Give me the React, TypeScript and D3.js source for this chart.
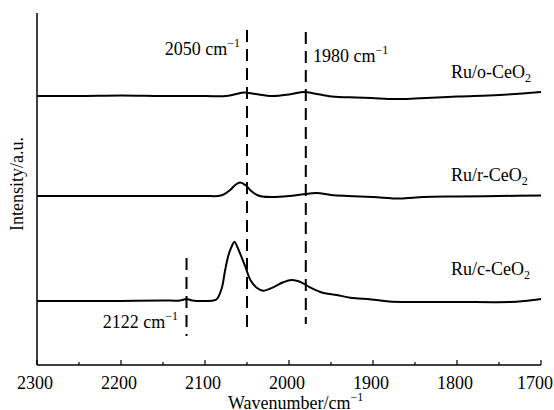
import React from "react";
import * as d3 from "d3";

// Wavenumber axis (cm^-1) and tick settings
const xDomain: [number, number] = [2300, 1700];
const majorTicks = [2300, 2200, 2100, 2000, 1900, 1800, 1700];
const minorTicks = [2250, 2150, 2050, 1950, 1850, 1750];

// Series labels and vertical offsets (a.u.)
const seriesNames = ["o", "r", "c"];
const seriesOffsets = [2.69, 1.69, 0.64];

// Ru/o-CeO2 spectrum
const oWave = [2300, 2250, 2200, 2150, 2100, 2075, 2060, 2054, 2040, 2020, 2000, 1982, 1970, 1949, 1920, 1902, 1874, 1850, 1800, 1750, 1700];
const oInt = [0, 0, 0.005, 0, 0, 0, 0.025, 0.035, 0.02, 0, 0.015, 0.04, 0.025, -0.005, -0.015, -0.02, -0.03, -0.025, -0.005, 0.01, 0.04];

// Ru/r-CeO2 spectrum
const rWave = [2300, 2200, 2100, 2085, 2079, 2070, 2064, 2058, 2052, 2045, 2038, 2032, 2020, 2000, 1985, 1967, 1950, 1930, 1900, 1868, 1840, 1800, 1750, 1700];
const rInt = [0, 0, 0, 0, 0.01, 0.06, 0.11, 0.135, 0.11, 0.05, 0.01, -0.005, -0.01, 0, 0.015, 0.03, 0.01, 0, -0.01, -0.025, -0.01, -0.005, 0, 0.005];

// Ru/c-CeO2 spectrum
const cWave = [2300, 2250, 2200, 2150, 2130, 2122, 2115, 2100, 2090, 2086, 2080, 2076, 2072, 2068, 2065, 2060, 2052, 2046, 2038, 2031, 2019, 2007, 1997, 1987, 1975, 1960, 1943, 1927, 1902, 1881, 1850, 1800, 1738, 1720, 1700];
const cInt = [0, 0, 0, 0.005, 0.005, 0.02, 0.005, 0, 0.005, 0.017, 0.13, 0.31, 0.46, 0.55, 0.593, 0.51, 0.343, 0.21, 0.13, 0.103, 0.137, 0.187, 0.21, 0.193, 0.137, 0.083, 0.06, 0.033, 0.015, -0.005, -0.01, -0.01, -0.01, 0, 0.02];

// Marked band positions (cm^-1)
const markers = [2050, 1980, 2122];
const markerLabels = ["2050", "1980", "2122"];

const W = 554;
const H = 410;
const left = 37;
const right = 541;
const top = 13;
const bottom = 365;

const font = "Liberation Serif";

export default function App() {
  const x = d3.scaleLinear().domain(xDomain).range([left, right]);
  const y = d3.scaleLinear().domain([0, 3.52]).range([bottom, top]);

  const line = d3
    .line<[number, number]>()
    .x((d) => x(d[0]))
    .y((d) => y(d[1]))
    .curve(d3.curveCatmullRom.alpha(0.5));

  const series = [
    { w: oWave, v: oInt },
    { w: rWave, v: rInt },
    { w: cWave, v: cInt },
  ].map((s, i) => ({
    name: seriesNames[i],
    off: seriesOffsets[i],
    pts: s.w.map((w, j) => [w, s.v[j] + seriesOffsets[i]] as [number, number]),
  }));

  // marker line vertical extents (a.u.)
  const markerSpans: [number, number][] = [
    [3.35, 0.37],
    [3.33, 0.41],
    [1.07, 0.29],
  ];

  const labelBaselines = [78, 181, 275];
  const txt = { fontFamily: font, fontSize: 18, fill: "#000" } as React.CSSProperties;
  const sup = { fontFamily: font, fontSize: 12 } as React.CSSProperties;

  return (
    <svg width={W} height={H} style={{ position: "absolute", left: 0, top: 0, background: "#fff" }}>
      <rect width={W} height={H} fill="#fff" />

      {/* axes */}
      <line x1={left} x2={left} y1={top} y2={bottom} stroke="#000" strokeWidth={1.5} />
      <line x1={left} x2={right} y1={bottom} y2={bottom} stroke="#000" strokeWidth={1.5} />
      {majorTicks.map((t, i) => (
        <g key={t}>
          <line x1={x(t)} x2={x(t)} y1={bottom} y2={bottom - 5} stroke="#000" strokeWidth={1.2} />
          <text
            x={i === majorTicks.length - 1 ? W - 1 : x(t) - 2}
            y={389}
            textAnchor={i === majorTicks.length - 1 ? "end" : "middle"}
            style={txt}
          >
            {t}
          </text>
        </g>
      ))}
      {minorTicks.map((t) => (
        <line key={t} x1={x(t)} x2={x(t)} y1={bottom} y2={bottom - 3} stroke="#000" strokeWidth={1.2} />
      ))}

      {/* axis titles */}
      <text x={228} y={409} style={txt}>
        Wavenumber/cm
        <tspan style={sup} dy={-8}>−1</tspan>
      </text>
      <text transform={`translate(23,184) rotate(-90)`} textAnchor="middle" style={txt}>
        Intensity/a.u.
      </text>

      {/* band markers */}
      {markers.map((m, i) => (
        <line
          key={m}
          x1={x(m)}
          x2={x(m)}
          y1={y(markerSpans[i][0])}
          y2={y(markerSpans[i][1])}
          stroke="#000"
          strokeWidth={2}
          strokeDasharray="12 7"
        />
      ))}
      <text x={240} y={55} textAnchor="end" style={txt}>
        {markerLabels[0]} cm
        <tspan style={sup} dy={-8}>−1</tspan>
      </text>
      <text x={313} y={62} style={txt}>
        {markerLabels[1]} cm
        <tspan style={sup} dy={-8}>−1</tspan>
      </text>
      <text x={178} y={328} textAnchor="end" style={txt}>
        {markerLabels[2]} cm
        <tspan style={sup} dy={-8}>−1</tspan>
      </text>

      {/* spectra */}
      {series.map((s) => (
        <path key={s.name} d={line(s.pts) || ""} fill="none" stroke="#000" strokeWidth={2} />
      ))}

      {/* series labels */}
      {series.map((s, i) => (
        <text key={s.name} x={451} y={labelBaselines[i]} style={txt}>
          Ru/{s.name}-CeO
          <tspan style={sup} dy={4}>2</tspan>
        </text>
      ))}
    </svg>
  );
}
